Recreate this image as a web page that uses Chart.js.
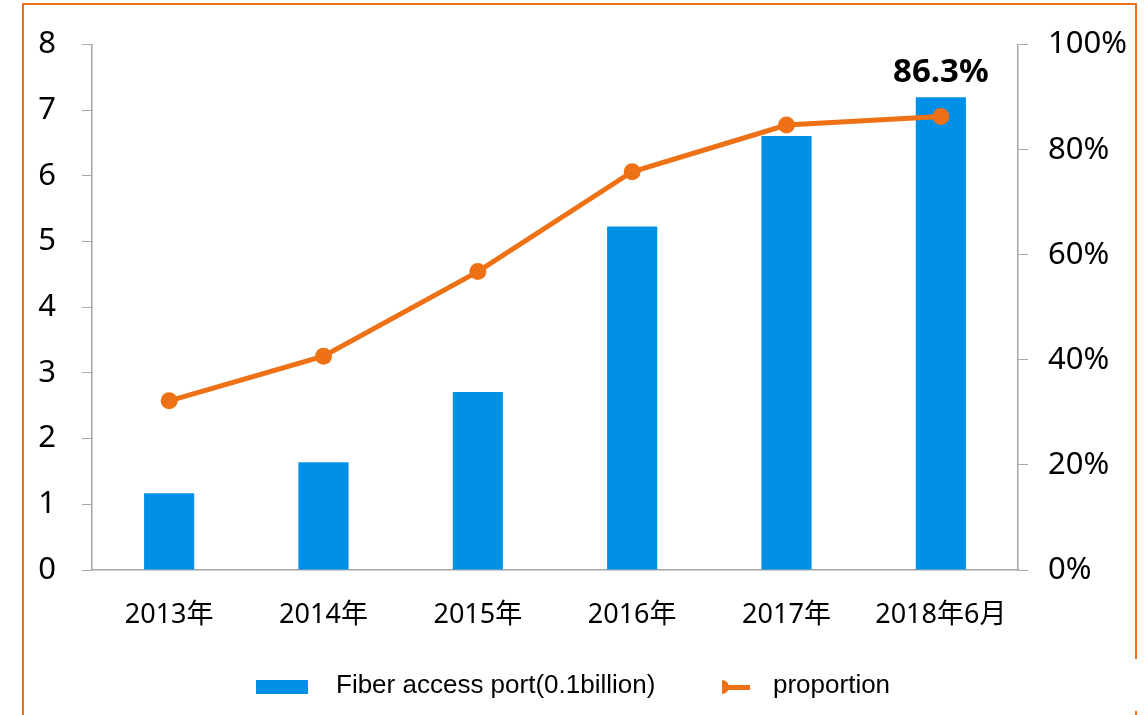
<!DOCTYPE html>
<html>
<head>
<meta charset="utf-8">
<script src="https://cdn.jsdelivr.net/npm/chart.js@4"></script>
<style>
  body { margin: 0; background: #fff; }
  #wrap { position: relative; width: 1148px; height: 715px; overflow: hidden; }
  #frame { position: absolute; left: 22px; top: 3px; width: 1111px; height: 780px;
           border: 2px solid #EE7115; border-bottom: none; }
  #gap { position: absolute; left: 1128px; top: 659px; width: 20px; height: 52px; background: #fff; }
  canvas { position: absolute; left: 0; top: 0; }
  .lg { position: absolute; font-family: "Liberation Sans", Arial, sans-serif; font-size: 26px; color: #000; }
</style>
</head>
<body>
<div id="wrap">
  <div id="frame"></div>
  <div id="gap"></div>
  <canvas id="chart" width="1148" height="715"></canvas>
  <div style="position:absolute;left:256px;top:680px;width:52px;height:14px;background:#0091E6"></div>
  <div class="lg" style="left:336px;top:669px">Fiber access port(0.1billion)</div>
  <div style="position:absolute;left:722px;top:680px;width:28px;height:14px;overflow:hidden">
    <div style="position:absolute;left:-7px;top:0;width:14px;height:14px;border-radius:50%;background:#EE7115"></div>
    <div style="position:absolute;left:0;top:5px;width:28px;height:5px;background:#EE7115"></div>
  </div>
  <div class="lg" style="left:773px;top:669px">proportion</div>
</div>
<script>
const categories = ["2013年", "2014年", "2015年", "2016年", "2017年", "2018年6月"];
const fiberPorts = [1.17, 1.64, 2.71, 5.23, 6.61, 7.2];
const proportion = [32.2, 40.7, 56.8, 75.8, 84.7, 86.3];
const leftTicks = [0, 1, 2, 3, 4, 5, 6, 7, 8];
const rightTicks = [0, 20, 40, 60, 80, 100];

const tickFont = "'Noto Sans', 'Noto Sans CJK SC', sans-serif";
const axisGray = "#A6A6A6";

const lastLabel = {
  id: "lastLabel",
  afterDatasetsDraw(chart) {
    const meta = chart.getDatasetMeta(1);
    const i = meta.data.length - 1;
    const pt = meta.data[i];
    const ctx = chart.ctx;
    ctx.save();
    ctx.font = "bold 33px " + tickFont;
    ctx.fillStyle = "#000";
    ctx.textAlign = "center";
    ctx.textBaseline = "middle";
    ctx.fillText(proportion[i].toFixed(1) + "%", pt.x, pt.y - 44);
    ctx.restore();
  },
};

new Chart(document.getElementById("chart"), {
  data: {
    labels: categories,
    datasets: [
      {
        type: "bar",
        label: "Fiber access port(0.1billion)",
        data: fiberPorts,
        backgroundColor: "#0091E6",
        barPercentage: 0.325,
        categoryPercentage: 1,
        yAxisID: "y",
        order: 2,
      },
      {
        type: "line",
        label: "proportion",
        data: proportion,
        borderColor: "#EE7115",
        backgroundColor: "#EE7115",
        borderWidth: 5,
        pointRadius: 8.5,
        pointBackgroundColor: "#EE7115",
        pointBorderWidth: 0,
        tension: 0,
        yAxisID: "y1",
        order: 1,
      },
    ],
  },
  options: {
    responsive: false,
    animation: false,
    layout: { padding: { top: 42, left: 0, right: 0, bottom: 0 } },
    plugins: { legend: { display: false }, tooltip: { enabled: false } },
    scales: {
      x: {
        grid: { display: false, drawTicks: false },
        border: { display: true, color: axisGray, width: 1.5 },
        ticks: { color: "#000", font: { family: tickFont, size: 27 }, padding: 29 },
        afterFit: (s) => { s.height = 145; },
      },
      y: {
        position: "left",
        min: 0,
        max: 8,
        afterBuildTicks: (s) => { s.ticks = leftTicks.map((v) => ({ value: v })); },
        grid: { drawOnChartArea: false, tickLength: 10, color: axisGray },
        border: { display: true, color: axisGray, width: 1.5 },
        ticks: { color: "#000", font: { family: tickFont, size: 31 }, padding: 26 },
        afterFit: (s) => { s.width = 92; },
      },
      y1: {
        position: "right",
        min: 0,
        max: 100,
        afterBuildTicks: (s) => { s.ticks = rightTicks.map((v) => ({ value: v })); },
        grid: { drawOnChartArea: false, tickLength: 10, color: axisGray },
        border: { display: true, color: axisGray, width: 1.5 },
        ticks: { color: "#000", font: { family: tickFont, size: 31 }, padding: 20, callback: (v) => v + "%" },
        afterFit: (s) => { s.width = 130; },
      },
    },
  },
  plugins: [lastLabel],
});
</script>
</body>
</html>
